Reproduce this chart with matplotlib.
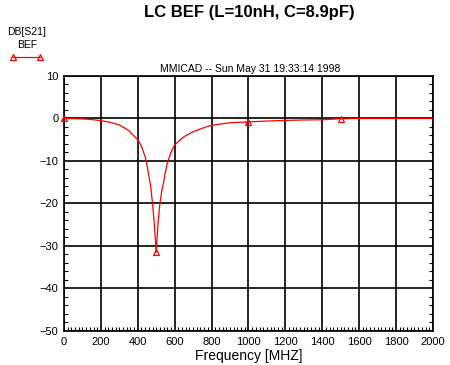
import matplotlib
matplotlib.use("Agg")
import matplotlib.pyplot as plt
from matplotlib.ticker import MultipleLocator

plt.rcParams['font.family'] = ['Liberation Sans', 'DejaVu Sans']

# frequency sweep (MHz) and DB[S21]
freq = [0, 50, 100, 150, 200, 250, 300, 350, 400, 420, 440, 450, 460, 470,
        480, 490, 500, 510, 520, 530, 540, 550, 560, 580, 600, 650, 700,
        750, 800, 900, 1000, 1100, 1200, 1300, 1400, 1500, 1600, 1700,
        1800, 1900, 2000]
s21_db = [0.0, -0.02, -0.1, -0.25, -0.5, -0.9, -1.5, -2.8, -5.0, -6.5,
          -9.0, -11.0, -13.5, -16.0, -20.0, -25.0, -31.5, -24.5, -20.0,
          -17.0, -15.0, -12.5, -10.5, -8.0, -6.2, -4.3, -3.1, -2.3, -1.6,
          -1.0, -0.8, -0.6, -0.45, -0.35, -0.3, -0.05, 0.0, 0.0, 0.0, 0.0,
          0.0]
marker_freqs = [0, 500, 1000, 1500]

fig = plt.figure(figsize=(4.5, 3.65), dpi=100)
ax = fig.add_axes([0.1422, 0.0932, 0.8198, 0.6986])

marks = [freq.index(f) for f in marker_freqs]
ax.plot(freq, s21_db, color='red', lw=0.9, marker='^', markevery=marks,
        markersize=5, markerfacecolor='none', markeredgecolor='red',
        markeredgewidth=0.9, clip_on=False, zorder=3)

ax.set_xlim(0, 2000)
ax.set_ylim(-50, 10)
ax.xaxis.set_major_locator(MultipleLocator(200))
ax.xaxis.set_minor_locator(MultipleLocator(20))
ax.yaxis.set_major_locator(MultipleLocator(10))
ax.yaxis.set_minor_locator(MultipleLocator(2))
ax.tick_params(which='both', direction='in', labelsize=8, colors='black')
ax.tick_params(which='minor', length=3, width=0.8, right=True, top=False)
ax.tick_params(which='major', length=0, pad=4)
ax.grid(True, which='major', color='black', lw=1.2)
for s in ax.spines.values():
    s.set_linewidth(1.2)

ax.set_xlabel('Frequency [MHZ]', fontsize=10, labelpad=2)

fig.text(0.555, 0.965, 'LC BEF (L=10nH, C=8.9pF)', ha='center', va='center',
         fontsize=12, fontweight='bold')
fig.text(0.555, 0.812, 'MMICAD -- Sun May 31 19:33:14 1998', ha='center',
         va='center', fontsize=7.5)
fig.text(0.06, 0.912, 'DB[S21]', ha='center', va='center', fontsize=7.5)
fig.text(0.06, 0.877, 'BEF', ha='center', va='center', fontsize=7.5)
fig.add_artist(plt.Line2D([0.029, 0.089], [0.843, 0.843], color='red', lw=0.9,
                          marker='^', markersize=5, markerfacecolor='none',
                          markeredgewidth=0.9, transform=fig.transFigure))

fig.savefig('out.png', dpi=100)
